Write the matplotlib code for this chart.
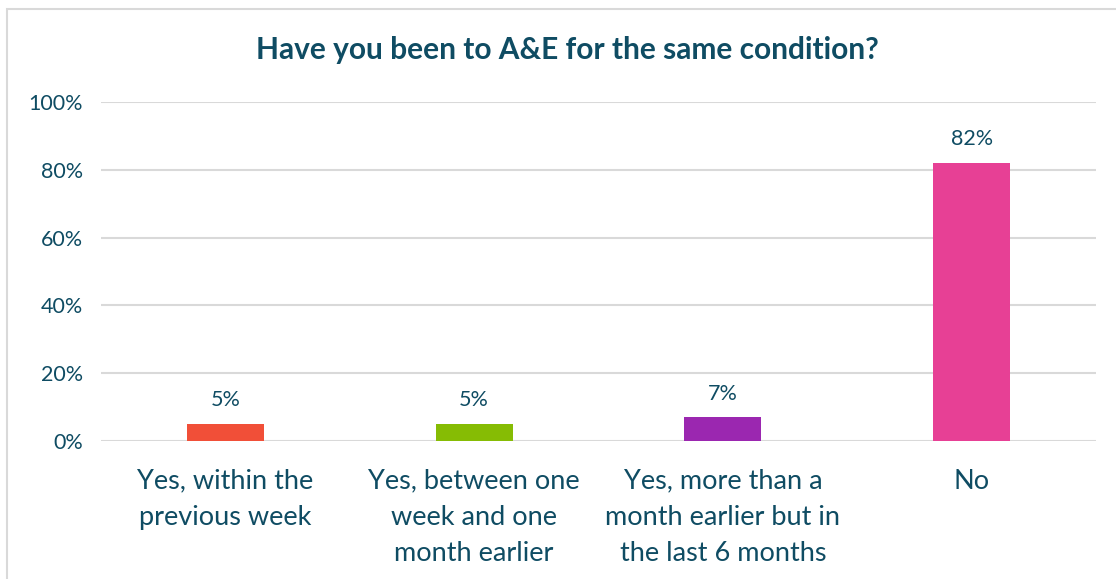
import matplotlib
matplotlib.use("Agg")
import matplotlib.pyplot as plt
from matplotlib.patches import Rectangle

categories = ["Yes, within the\nprevious week",
              "Yes, between one\nweek and one\nmonth earlier",
              "Yes, more than a\nmonth earlier but in\nthe last 6 months",
              "No"]
values = [5, 5, 7, 82]
colors = ["#F14F38", "#86BC04", "#9B27B0", "#E74095"]
yticks = [0, 20, 40, 60, 80, 100]
title = "Have you been to A&E for the same condition?"

txt = "#0F4C63"
plt.rcParams['font.family'] = ['Lato', 'DejaVu Sans']

W, H = 1116, 579
fig = plt.figure(figsize=(W / 100, H / 100), dpi=100)
ax = fig.add_axes([101 / W, 1 - 441 / H, (1096 - 101) / W, (441 - 102) / H])

x = list(range(len(categories)))
ax.bar(x, values, width=0.31, color=colors, zorder=3)
for xi, v in zip(x, values):
    ax.text(xi, v + 4, f"{v}%", ha="center", va="bottom", fontsize=15.5, color=txt)

ax.set_xlim(-0.5, len(categories) - 0.5)
ax.set_ylim(0, 100)
ax.set_yticks(yticks)
ax.set_yticklabels([f"{t}%" for t in yticks], fontsize=15.5, color=txt)
ax.set_xticks(x)
ax.set_xticklabels(categories, fontsize=19.5, color=txt, linespacing=1.55, va="top")
ax.tick_params(axis="both", length=0)
ax.tick_params(axis="y", pad=13)
ax.tick_params(axis="x", pad=20)
ax.grid(axis="y", color="#D9D9D9", linewidth=1.5, zorder=0)
for s in ax.spines.values():
    s.set_visible(False)

fig.text(567 / W, 1 - 50 / H, title, ha="center", va="center",
         fontsize=21.5, fontweight="bold", color=txt)

fig.patches.append(Rectangle((7 / W, -0.1), 1.2, 1 - 9 / H + 0.1,
                             transform=fig.transFigure, fill=False,
                             edgecolor="#D9D9D9", linewidth=1.5))

fig.savefig("out.png", dpi=100)
